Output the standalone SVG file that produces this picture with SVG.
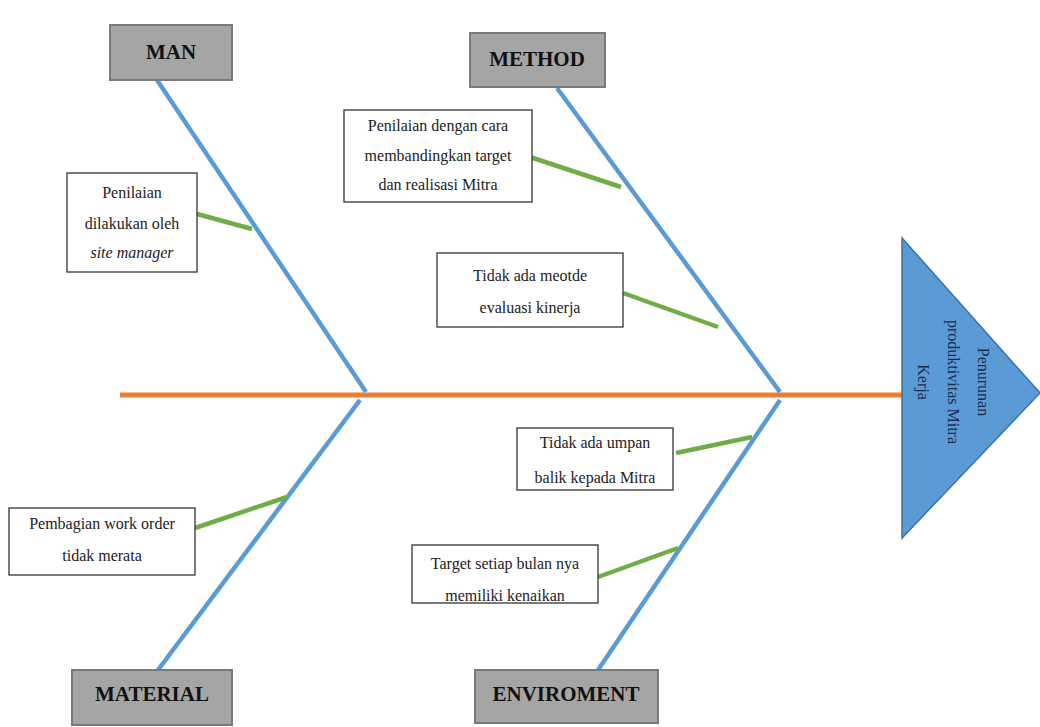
<svg xmlns="http://www.w3.org/2000/svg" width="1040" height="727" viewBox="0 0 1040 727">
<style>
.cat rect{fill:#a5a5a5;stroke:#7a7a7a;stroke-width:2}
.cat text{font-family:"Liberation Serif",serif;font-weight:bold;font-size:21px;fill:#111;text-anchor:middle}
.cause rect{fill:#fff;stroke:#333;stroke-width:1.3}
.cause text{font-family:"Liberation Serif",serif;font-size:16px;fill:#222;text-anchor:middle}
.bone{stroke:#5b9bd5;stroke-width:4.5;fill:none}
.twig{stroke:#70ad47;stroke-width:4.5;fill:none}
.spine{stroke:#ed7d31;stroke-width:5;fill:none}
</style>
<rect width="1040" height="727" fill="#fff"/>
<g id="connectors">
<line class="spine" x1="120" y1="395" x2="903" y2="395"/>
<line class="bone" x1="157" y1="80" x2="366" y2="392"/>
<line class="bone" x1="360" y1="400" x2="158" y2="670"/>
<line class="bone" x1="557" y1="88" x2="780" y2="392"/>
<line class="bone" x1="780" y1="400" x2="598" y2="670"/>
<line class="twig" x1="197" y1="214" x2="252" y2="229"/>
<line class="twig" x1="530" y1="157" x2="621" y2="187"/>
<line class="twig" x1="623" y1="293" x2="718" y2="327"/>
<line class="twig" x1="676" y1="453" x2="752" y2="437"/>
<line class="twig" x1="598" y1="577" x2="678" y2="548"/>
<line class="twig" x1="195" y1="528" x2="287" y2="497"/>
</g>
<g id="man" class="cat"><rect x="110" y="25" width="122" height="55"/><text x="171" y="59">MAN</text></g>
<g id="method" class="cat"><rect x="470" y="33" width="135" height="54"/><text x="537" y="66">METHOD</text></g>
<g id="material" class="cat"><rect x="72" y="670" width="160" height="55"/><text x="152" y="701">MATERIAL</text></g>
<g id="enviroment" class="cat"><rect x="475" y="670" width="183" height="53"/><text x="566" y="701">ENVIROMENT</text></g>
<g id="c-man" class="cause"><rect x="67" y="173" width="130" height="99"/>
<text x="132" y="198">Penilaian</text><text x="132" y="229">dilakukan oleh</text><text x="132" y="258" font-style="italic">site manager</text></g>
<g id="c-method1" class="cause"><rect x="344" y="110" width="188" height="92"/>
<text x="438" y="131">Penilaian dengan cara</text><text x="438" y="161">membandingkan target</text><text x="438" y="190">dan realisasi Mitra</text></g>
<g id="c-method2" class="cause"><rect x="437" y="253" width="186" height="74"/>
<text x="530" y="281">Tidak ada meotde</text><text x="530" y="313">evaluasi kinerja</text></g>
<g id="c-env1" class="cause"><rect x="517" y="428" width="156" height="62"/>
<text x="595" y="448">Tidak ada umpan</text><text x="595" y="483">balik kepada Mitra</text></g>
<g id="c-env2" class="cause"><rect x="412" y="545" width="186" height="58"/>
<text x="505" y="569">Target setiap bulan nya</text><text x="505" y="601">memiliki kenaikan</text></g>
<g id="c-material" class="cause"><rect x="9" y="508" width="186" height="67"/>
<text x="102" y="529">Pembagian work order</text><text x="102" y="561">tidak merata</text></g>
<g id="effect">
<polygon points="902,238 1040,393 902,538" fill="#5b9bd5" stroke="#41719c" stroke-width="1.5"/>
<g font-family="Liberation Serif,serif" font-size="16" fill="#1f2d4d" text-anchor="middle">
<text transform="translate(978,382) rotate(90)">Penurunan</text>
<text transform="translate(948,382) rotate(90)">produktivitas Mitra</text>
<text transform="translate(918,382) rotate(90)">Kerja</text>
</g>
</g>
</svg>
